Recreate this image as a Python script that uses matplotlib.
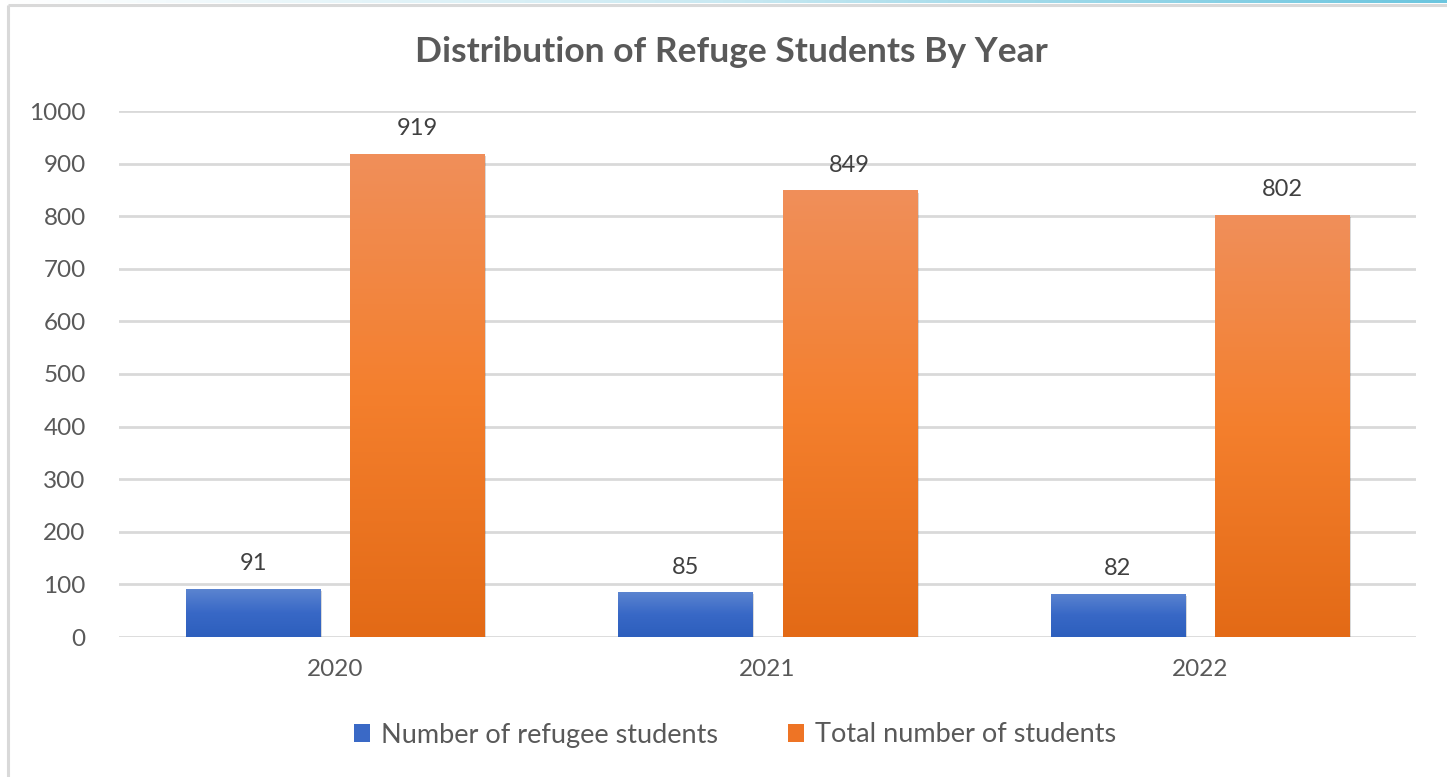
import numpy as np
import matplotlib
matplotlib.use("Agg")
import matplotlib.pyplot as plt
from matplotlib.colors import LinearSegmentedColormap
from matplotlib.patches import Patch
import matplotlib.patheffects as pe

plt.rcParams['font.family'] = ['Lato', 'DejaVu Sans']

years = ['2020', '2021', '2022']
refugee = [91, 85, 82]
total = [919, 849, 802]
series_names = ['Number of refugee students', 'Total number of students']

fig = plt.figure(figsize=(14.47, 7.77), dpi=100)

# frame around the chart (grey left/top edge + cyan strip at very top)
bg = fig.add_axes([0, 0, 1, 1], zorder=-5)
bg.set_xlim(0, 1447)
bg.set_ylim(777, 0)
bg.axis('off')
strip = np.linspace(0, 1, 400).reshape(1, -1)
cyan = LinearSegmentedColormap.from_list('cy', ['#ffffff', '#c9e9f2', '#6cc6df'])
bg.imshow(strip, extent=[0, 1447, 3.5, 0], aspect='auto', cmap=cyan)
bg.plot([8, 1447], [5, 5], color='#d9d9d9', lw=2.2, solid_capstyle='butt')
bg.plot([8, 8], [5, 777], color='#d9d9d9', lw=2.2, solid_capstyle='butt')

ax = fig.add_axes([119/1447, 1-637/777, (1416-119)/1447, (637-111)/777])
x = np.arange(len(years))
w = 0.31
off = 0.19

b1 = ax.bar(x - off, refugee, w, color='#4472c4', zorder=3, label=series_names[0])
b2 = ax.bar(x + off, total, w, color='#ed7d31', zorder=3, label=series_names[1])

blue_cm = LinearSegmentedColormap.from_list('b', ['#2d5fbd', '#3868c6', '#5b84d0'])
orange_cm = LinearSegmentedColormap.from_list('o', ['#e36a16', '#f47f2d', '#f08f5a'])
grad = np.linspace(0, 1, 256).reshape(-1, 1)
for bars, cm in [(b1, blue_cm), (b2, orange_cm)]:
    for bar in bars:
        bar.set_path_effects([pe.SimplePatchShadow(offset=(1.5, -1.5), shadow_rgbFace='#000000', alpha=0.15), pe.Normal()])
        x0, y0 = bar.get_xy()
        im = ax.imshow(grad, extent=[x0, x0 + bar.get_width(), y0, y0 + bar.get_height()],
                       origin='lower', aspect='auto', cmap=cm, zorder=3.5)
        im.set_clip_path(bar)

for bars, vals in [(b1, refugee), (b2, total)]:
    for bar, v in zip(bars, vals):
        ax.text(bar.get_x() + bar.get_width()/2, v + 28, str(v), ha='center', va='bottom',
                fontsize=17, color='#404040')

ax.set_xlim(-0.5, 2.5)
ax.set_ylim(0, 1000)
ax.set_yticks(range(0, 1001, 100))
ax.set_xticks(x)
ax.set_xticklabels(years)
ax.tick_params(axis='both', length=0, labelsize=17.5, labelcolor='#595959')
ax.tick_params(axis='y', pad=24)
ax.tick_params(axis='x', pad=16)
ax.grid(axis='y', color='#d9d9d9', lw=2, zorder=0)
ax.set_axisbelow(True)
for s in ax.spines.values():
    s.set_visible(False)

fig.text(731/1447, 1-52/777, 'Distribution of Refuge Students By Year', ha='center', va='center',
         fontsize=25.5, fontweight='bold', color='#595959')

handles = [Patch(facecolor='#3a69c6'), Patch(facecolor='#ee7425')]
fig.legend(handles, series_names, loc='center', bbox_to_anchor=(735/1447, 1-735/777), ncol=2,
           frameon=False, fontsize=19.5, labelcolor='#595959', handlelength=0.6, handleheight=0.6,
           handletextpad=0.4, columnspacing=2.6)

fig.savefig('out.png', dpi=100)
